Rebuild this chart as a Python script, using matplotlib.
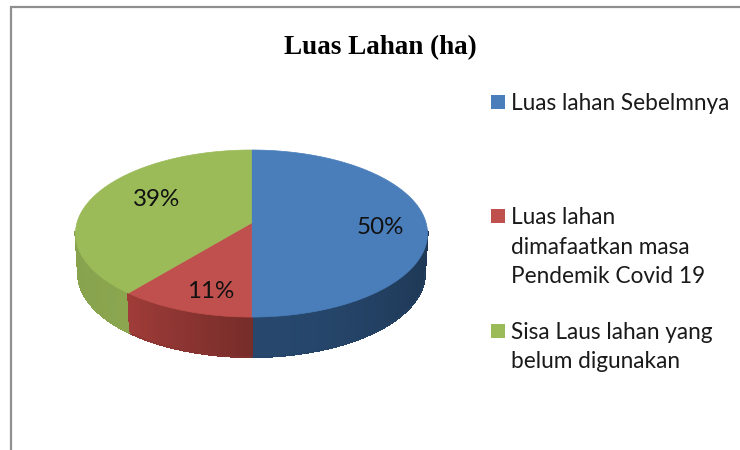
import numpy as np
import matplotlib
matplotlib.use("Agg")
import matplotlib.pyplot as plt
from matplotlib.patches import Polygon, Rectangle

title = "Luas Lahan (ha)"
categories = ["Luas lahan Sebelmnya",
              "Luas lahan\ndimafaatkan masa\nPendemik Covid 19",
              "Sisa Laus lahan yang\nbelum digunakan"]
values = [50, 11, 39]
top_colors = ["#4a7ebb", "#c0504d", "#9bbb59"]
side_colors = ["#254468", "#8a3431", "#8ba64f"]

label_pos = [(380, 228), (211, 291), (157, 199)]
legend_y = [95, 209, 324]

# pie geometry in pixels, the tilt gives the near side more room
cx, cy = 251.5, 223
rx, ry = 174.6, 82.2
k = 0.126
depth = 40


def project(t, r=1.0):
    u = r * np.sin(t)
    v = -r * np.cos(t)
    d = 1 - k * v
    return cx + rx * u / d, cy + ry * v / d


fig = plt.figure(figsize=(7.4, 4.5), dpi=100)
ax = fig.add_axes([0, 0, 1, 1])
ax.set_xlim(0, 740)
ax.set_ylim(450, 0)
ax.axis("off")

# chart frame, only top and left are in the crop
ax.plot([11, 11, 740], [450, 7, 7], color="#8f8f8f", lw=1.6, solid_joinstyle="miter")

fracs = np.array(values) / sum(values)
edges = np.concatenate([[0], np.cumsum(fracs)]) * 2 * np.pi

# side wall first, only the near part shows
quads = []
for i in range(len(values)):
    ts = np.arange(edges[i], edges[i + 1], np.radians(0.5))
    ts = np.append(ts, edges[i + 1])
    base = np.array(matplotlib.colors.to_rgb(side_colors[i]))
    for a, b in zip(ts[:-1], ts[1:]):
        mid = (a + b) / 2
        if -np.cos(mid) < 0.1:
            continue
        shade = 0.8 + 0.25 * np.cos(mid - np.pi) ** 2
        if i == 1:
            shade = 0.86 + 0.3 * (mid - edges[1]) / (edges[2] - edges[1])
        if i == 2:
            shade = 1.0 - 0.1 * (mid - edges[2]) / (edges[3] - edges[2])
        x0, y0 = project(a)
        x1, y1 = project(b)
        xc0 = cx + (x0 - cx) * 0.985
        xc1 = cx + (x1 - cx) * 0.985
        col = np.clip(base * shade, 0, 1)
        quads.append((-np.cos(mid), [(x0, y0), (x1, y1), (xc1, y1 + depth), (xc0, y0 + depth)], col))

for _, pts, col in sorted(quads, key=lambda q: q[0]):
    ax.add_patch(Polygon(pts, closed=True, facecolor=col, edgecolor=col, lw=0.8, antialiased=False))

# smooth the lower rim of the wall
for i in range(len(values)):
    ts = np.linspace(edges[i], edges[i + 1], 200)
    xs, ys = project(ts)
    xs = cx + (xs - cx) * 0.985
    ys = ys + depth
    front = -np.cos(ts) >= 0.1
    ax.plot(xs[front], ys[front], color=side_colors[i], lw=1.0, alpha=0.7)

# top face
for i in range(len(values)):
    ts = np.linspace(edges[i], edges[i + 1], 200)
    xs, ys = project(ts)
    pts = [(cx, cy)] + list(zip(xs, ys))
    ax.add_patch(Polygon(pts, closed=True, facecolor=top_colors[i],
                         edgecolor=top_colors[i], lw=0.5, zorder=3))

for val, (x, y) in zip(values, label_pos):
    ax.text(x, y, f"{val}%", ha="center", va="center", fontsize=17.4,
            family="Lato", color="#111111", zorder=5)

ax.text(380.5, 48, title, ha="center", va="center", fontsize=19.5,
        family="Liberation Serif", weight="bold", color="black")

for name, col, y in zip(categories, top_colors, legend_y):
    ax.add_patch(Rectangle((491, y), 14, 14, facecolor=col, edgecolor="none"))
    ax.text(511, y - 2, name, ha="left", va="top", fontsize=16.3, family="Lato",
            color="#1a1a1a", linespacing=1.5)

fig.savefig("out.png", dpi=100, facecolor="white")
